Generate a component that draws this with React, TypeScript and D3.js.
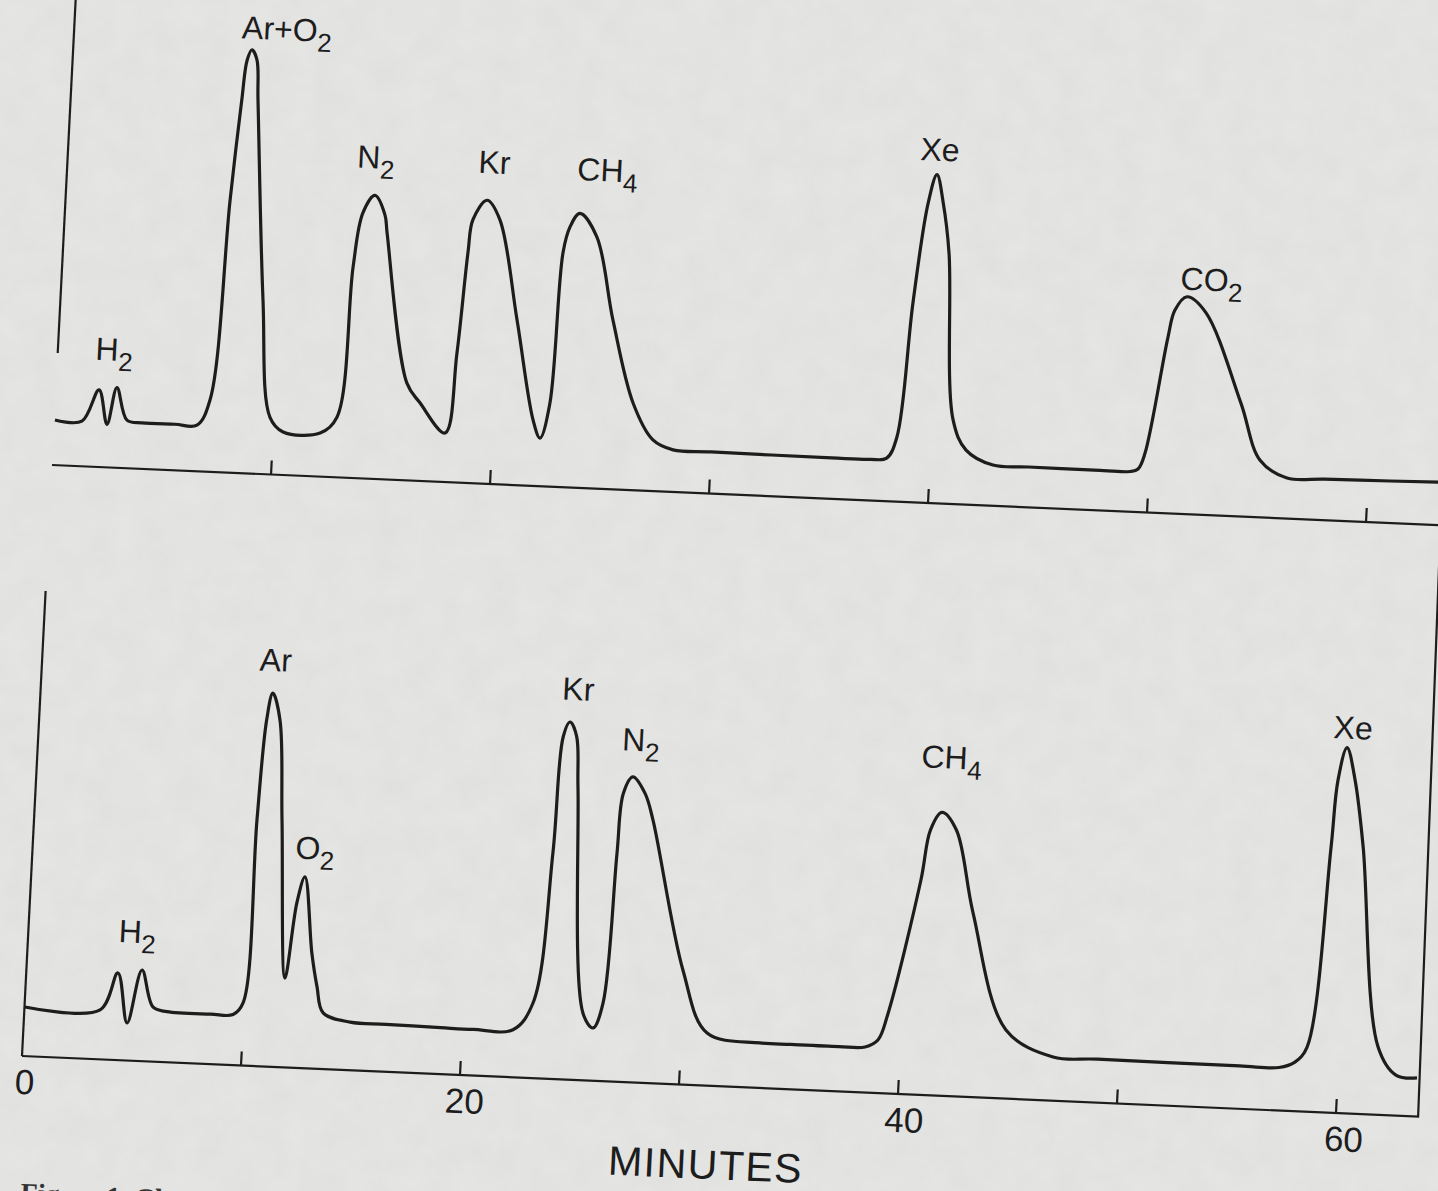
import * as d3 from "d3";
import { useEffect, useRef } from "react";

// minutes on the strip chart
const tickMinutes = [10, 20, 30, 40, 50, 60];
const tickLabels = [0, 20, 40, 60];

// upper run: [minutes, pen deflection]
const upperTrace: [number, number][] = [
  [0.03, 45], [1.26, 45], [1.97, 77], [2.41, 43], [2.78, 80], [3.31, 48], [4.0, 46],
  [5.5, 46], [6.51, 46], [7.05, 72], [7.5, 272], [7.8, 372], [7.95, 412], [8.15, 423],
  [8.4, 413], [8.54, 373], [9.23, 174], [9.82, 57], [10.45, 43], [12.14, 43.5],
  [12.87, 60], [13.26, 211], [13.58, 265], [14.09, 283], [14.59, 264], [14.73, 246],
  [15.98, 97], [16.62, 78], [17.83, 49], [18.19, 129], [18.46, 230], [18.61, 263],
  [19.21, 283], [19.84, 264], [20.85, 165], [21.81, 66], [22.17, 48], [22.54, 83],
  [22.79, 234], [23.05, 260], [23.47, 274], [24.3, 251], [25.22, 169], [26.33, 87],
  [27.32, 51], [28.26, 42], [30.0, 41.6], [35.5, 40.8], [37.26, 41], [38.01, 43],
  [38.43, 64.5], [38.85, 199], [39.31, 299], [39.65, 328], [40.0, 300], [40.38, 250],
  [40.95, 84], [41.61, 54.5], [42.87, 40.7], [44.5, 40.3], [47.5, 40], [49.13, 40.2],
  [49.49, 43], [49.77, 59], [50.55, 176], [50.8, 203], [51.32, 217], [52.22, 202],
  [54.03, 113], [55.03, 57], [56.3, 40.5], [58.0, 41], [61.0, 42], [63.19, 43], [65, 43.5],
];

// lower run
const lowerTrace: [number, number][] = [
  [0.02, 49], [3.45, 49.3], [4.18, 87], [4.71, 37.5], [5.27, 91], [5.85, 54.6], [6.5, 50.5],
  [8.5, 50], [9.52, 50.5], [9.95, 62.5], [10.16, 246], [10.37, 346], [10.59, 373],
  [10.98, 346], [11.3, 247], [11.8, 89], [12.17, 165], [12.48, 191], [12.97, 115],
  [13.28, 82], [13.62, 56], [14.87, 48], [16.5, 47.4], [19.0, 46.4], [20.49, 46],
  [22.31, 47.5], [23.16, 75], [23.72, 226], [23.92, 342], [24.2, 357], [24.53, 343],
  [24.71, 292], [25.46, 67], [25.95, 52.7], [26.35, 78], [26.64, 228], [26.79, 288],
  [27.19, 305], [27.78, 289], [28.2, 263], [29.92, 114], [31.16, 52.6], [33.59, 45],
  [35.0, 44.8], [37.2, 44.8], [38.39, 45.5], [38.96, 53], [39.36, 80], [40.55, 214.5],
  [40.87, 265], [41.35, 283], [42.05, 266], [43.0, 184], [44.77, 68.6], [46.98, 43.7],
  [49.0, 43.4], [55.5, 42.8], [57.3, 43], [58.01, 49], [58.53, 64.6], [59.16, 265],
  [59.32, 332], [59.66, 365], [60.1, 333], [60.62, 267], [61.76, 68], [62.64, 40.5],
  [63.61, 38.5],
];

// peak names: [main, subscript] and where they sit [minutes, deflection]
const upperNames = [["H", "2"], ["Ar+O", "2"], ["N", "2"], ["Kr", ""], ["CH", "4"], ["Xe", ""], ["CO", "2"]];
const upperNameAt = [[1.72, 107], [7.65, 434], [13.2, 310], [18.73, 310], [23.25, 307], [38.84, 342], [50.99, 224]];
const lowerNames = [["H", "2"], ["Ar", ""], ["O", "2"], ["Kr", ""], ["N", "2"], ["CH", "4"], ["Xe", ""]];
const lowerNameAt = [[4.12, 118], [9.92, 395], [11.98, 209], [23.77, 379], [26.62, 331], [40.29, 327], [59.0, 374]];

const W = 1438;
const H = 1191;
const ink = "#1d1d1d";
const font = "'Liberation Sans', Arial, sans-serif";

export default function App() {
  const ref = useRef<SVGSVGElement>(null);

  useEffect(() => {
    const svg = d3.select(ref.current);
    svg.selectAll("*").remove();

    // paper with a faint grain
    const defs = svg.append("defs");
    const grain = defs.append("filter").attr("id", "grain").attr("x", 0).attr("y", 0).attr("width", 1).attr("height", 1);
    grain.append("feTurbulence").attr("type", "fractalNoise").attr("baseFrequency", 0.035).attr("numOctaves", 3).attr("seed", 4);
    grain.append("feColorMatrix").attr("type", "matrix")
      .attr("values", "0 0 0 0 0.35  0 0 0 0 0.35  0 0 0 0 0.35  0 0 0 0.09 0");
    svg.append("rect").attr("width", W).attr("height", H).attr("fill", "#e6e6e5");
    svg.append("rect").attr("width", W).attr("height", H).attr("filter", "url(#grain)");

    // the scanned sheet sits a little askew
    const g = svg.append("g").attr("transform", "matrix(1,0.0434,-0.0508,1,22,1056)");

    const x = d3.scaleLinear().domain([0, 60]).range([0, 1314]);
    const upperBase = -591;
    const yUp = d3.scaleLinear().domain([0, 450]).range([upperBase, upperBase - 450]);
    const yLow = d3.scaleLinear().domain([0, 450]).range([0, -450]);

    const axis = g.append("g").attr("stroke", ink).attr("stroke-width", 2.2).attr("fill", "none");
    // lower frame
    axis.append("path").attr("d", `M${x(0)},${yLow(0)}H${x(63.75)}L${x(63.4)},${yLow(600)}`);
    axis.append("path").attr("d", `M${x(0)},${yLow(0)}V${yLow(465)}`);
    // upper frame
    axis.append("path").attr("d", `M${x(0)},${yUp(112)}V${yUp(480)}`);
    axis.append("path").attr("d", `M${x(0)},${yUp(0)}H${x(67)}`);

    tickMinutes.forEach((t) => {
      axis.append("line").attr("x1", x(t)).attr("x2", x(t)).attr("y1", yUp(0)).attr("y2", yUp(14));
      axis.append("line").attr("x1", x(t)).attr("x2", x(t)).attr("y1", yLow(0)).attr("y2", yLow(14));
    });

    g.selectAll(".tl")
      .data(tickLabels)
      .enter()
      .append("text")
      .attr("x", (d) => x(d) + 4 + d * 0.08)
      .attr("y", yLow(-38))
      .attr("text-anchor", "middle")
      .attr("font-family", font)
      .attr("font-size", 35)
      .attr("fill", ink)
      .text((d) => d);

    g.append("text")
      .attr("x", x(31.4))
      .attr("y", yLow(-93))
      .attr("text-anchor", "middle")
      .attr("font-family", font)
      .attr("font-size", 41)
      .attr("letter-spacing", 1.5)
      .attr("fill", ink)
      .text("MINUTES");

    const line = (y: d3.ScaleLinear<number, number>) =>
      d3.line<[number, number]>()
        .x((d) => x(d[0]))
        .y((d) => y(d[1]))
        .curve(d3.curveCatmullRom.alpha(0.5));

    g.append("path")
      .attr("d", line(yUp)(upperTrace))
      .attr("fill", "none")
      .attr("stroke", ink)
      .attr("stroke-width", 3.2)
      .attr("stroke-linejoin", "round");

    g.append("path")
      .attr("d", line(yLow)(lowerTrace))
      .attr("fill", "none")
      .attr("stroke", ink)
      .attr("stroke-width", 3.2)
      .attr("stroke-linejoin", "round");

    const names = (list: string[][], at: number[][], y: d3.ScaleLinear<number, number>) => {
      list.forEach(([main, sub], i) => {
        const t = g.append("text")
          .attr("x", x(at[i][0]))
          .attr("y", y(at[i][1]))
          .attr("font-family", font)
          .attr("font-size", 32)
          .attr("fill", ink);
        t.append("tspan").text(main);
        if (sub) t.append("tspan").attr("dy", 10).attr("font-size", 26).text(sub);
      });
    };
    names(upperNames, upperNameAt, yUp);
    names(lowerNames, lowerNameAt, yLow);

    // caption running off the bottom of the page
    g.append("text")
      .attr("x", x(0.25))
      .attr("y", yLow(-146))
      .attr("font-family", "'Liberation Serif', serif")
      .attr("font-weight", "bold")
      .attr("font-size", 28)
      .attr("fill", "#333")
      .text("Figure 1. Ch");
  }, []);

  return (
    <svg
      ref={ref}
      width={W}
      height={H}
      style={{ position: "absolute", left: 0, top: 0, display: "block" }}
    />
  );
}
